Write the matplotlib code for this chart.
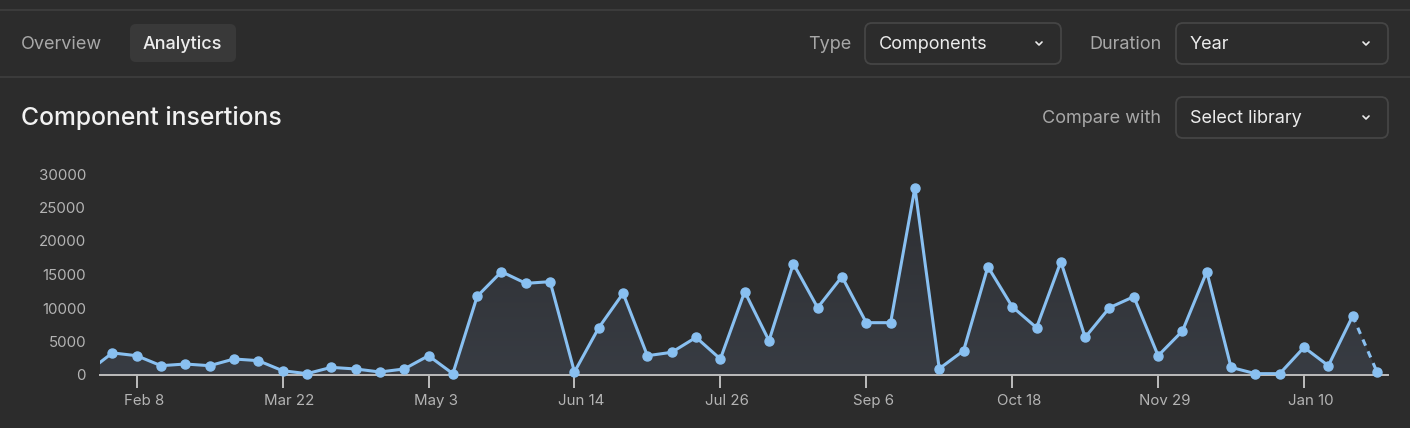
import numpy as np
import matplotlib
matplotlib.use("Agg")
import matplotlib.pyplot as plt
import matplotlib.dates as mdates
import matplotlib.transforms as mtransforms
from matplotlib.patches import FancyBboxPatch, Rectangle
from matplotlib.colors import LinearSegmentedColormap

plt.rcParams['font.family'] = ['Inter', 'DejaVu Sans']

# ---------------- data ----------------
start_date = '2021-01-25'
insertions = [500, 3300, 2880, 1390, 1640, 1390, 2390, 2140, 640, 200, 1140, 900, 450, 900,
              2880, 200, 11740, 15420, 13680, 13930, 450, 7060, 12190, 2880, 3390, 5620,
              2390, 12440, 5120, 16620, 10050, 14680, 7810, 7810, 27960, 940, 3630, 16170,
              10200, 7060, 16920, 5620, 10050, 11690, 2880, 6570, 15420, 1140, 200, 200,
              4130, 1390, 8810, 450]
tick_dates = ['2021-02-08', '2021-03-22', '2021-05-03', '2021-06-14', '2021-07-26',
              '2021-09-06', '2021-10-18', '2021-11-29', '2022-01-10']
tick_labels = ['Feb 8', 'Mar 22', 'May 3', 'Jun 14', 'Jul 26', 'Sep 6', 'Oct 18', 'Nov 29', 'Jan 10']
y_ticks = [0, 5000, 10000, 15000, 20000, 25000, 30000]
title = 'Component insertions'
tabs = ['Overview', 'Analytics']
type_label, type_value = 'Type', 'Components'
duration_label, duration_value = 'Duration', 'Year'
compare_label, compare_value = 'Compare with', 'Select library'

dates = np.arange(np.datetime64(start_date), np.datetime64(start_date) + 7 * len(insertions), 7)
x = mdates.date2num(dates.astype('datetime64[D]').astype(object))
y = np.array(insertions, dtype=float)

# ---------------- style ----------------
BG = '#2c2c2c'
LINE = '#89c0f1'
TXT_DIM = '#a8a8a8'
TXT = '#ececec'
SEP = '#3b3b3b'
BORDER = '#454545'
UI_FS = 13

W, H = 1410, 428
fig = plt.figure(figsize=(W / 100, H / 100), dpi=100, facecolor=BG)

# overlay axes in pixel coordinates for UI elements
ui = fig.add_axes([0, 0, 1, 1], zorder=0)
ui.set_xlim(0, W)
ui.set_ylim(H, 0)
ui.axis('off')
ui.patch.set_alpha(0)

# separators
ui.add_patch(Rectangle((0, 9), W, 2, color=SEP, lw=0))
ui.add_patch(Rectangle((0, 76), W, 2, color=SEP, lw=0))

# tabs
ui.text(21, 44.5, tabs[0], color=TXT_DIM, fontsize=UI_FS, va='center', ha='left')
ui.add_patch(FancyBboxPatch((130 + 6, 24 + 6), 106 - 12, 38 - 12,
                            boxstyle='round,pad=6', fc='#393939', ec='none'))
ui.text(143, 44.5, tabs[1], color=TXT, fontsize=UI_FS, va='center', ha='left', fontweight='medium')


def dropdown(x0, x1, y0, y1, text):
    ui.add_patch(FancyBboxPatch((x0 + 7, y0 + 7), x1 - x0 - 14, y1 - y0 - 14,
                                boxstyle='round,pad=7', fc='none', ec=BORDER, lw=1.3))
    ui.text(x0 + 14, (y0 + y1) / 2 + 0.5, text, color=TXT, fontsize=UI_FS, va='center', ha='left')
    cx, cy = x1 - 22, (y0 + y1) / 2
    ui.plot([cx - 3, cx, cx + 3], [cy - 1.5, cy + 1.5, cy - 1.5], color=TXT, lw=1.2,
            solid_capstyle='round', solid_joinstyle='round')


ui.text(851, 44.5, type_label, color=TXT_DIM, fontsize=UI_FS, va='center', ha='right')
dropdown(865, 1061, 23, 64, type_value)
ui.text(1162, 44.5, duration_label, color=TXT_DIM, fontsize=UI_FS, va='center', ha='right')
dropdown(1176, 1388, 23, 64, duration_value)

ui.text(21, 118, title, color='#f2f2f2', fontsize=17.8, va='center', ha='left', fontweight='medium')
ui.text(1161, 118, compare_label, color=TXT_DIM, fontsize=UI_FS, va='center', ha='right')
dropdown(1176, 1388, 97, 138, compare_value)

# ---------------- chart ----------------
ax_left, ax_right = 100, 1388
ax_top, ax_bottom = 174, 375
ax = fig.add_axes([ax_left / W, (H - ax_bottom) / H, (ax_right - ax_left) / W, (ax_bottom - ax_top) / H],
                  zorder=2)
ax.patch.set_alpha(0)

xl = mdates.date2num(np.datetime64('2021-01-28T10:30').astype(object))
xr = mdates.date2num(np.datetime64('2022-02-03T04:00').astype(object))
ax.set_xlim(xl, xr)
ax.set_ylim(0, 30000)

# gradient fill under curve
poly = ax.fill_between(x, 0, y, color='none', lw=0)
grad = np.linspace(0, 1, 256).reshape(-1, 1)
cmap = LinearSegmentedColormap.from_list('g', ['#383c43', '#2d2e31'])
img = ax.imshow(grad, cmap=cmap, aspect='auto', origin='lower',
                extent=[xl, xr, 0, 30000], zorder=1)
img.set_clip_path(poly.get_paths()[0], transform=ax.transData)

ax.plot(x[:-1], y[:-1], color=LINE, lw=2.2, zorder=3, solid_joinstyle='round')
ax.plot(x[-2:], y[-2:], color=LINE, lw=2.2, ls=(0, (2.2, 2.0)), zorder=3)
ax.plot(x[1:], y[1:], 'o', color=LINE, ms=6.5, zorder=4, clip_on=False)

for s in ['top', 'right', 'left']:
    ax.spines[s].set_visible(False)
ax.spines['bottom'].set_color('#bdbdbd')
ax.spines['bottom'].set_linewidth(1.4)
ax.spines['bottom'].set_zorder(2)

tick_x = [mdates.date2num(np.datetime64(d).astype(object)) for d in tick_dates]
ax.set_xticks(tick_x)
ax.set_xticklabels(tick_labels)
ax.set_yticks(y_ticks)
ax.set_yticklabels([str(v) for v in y_ticks])
ax.tick_params(axis='x', colors='#bdbdbd', length=9, width=1.4, pad=5, labelsize=10.8,
               labelcolor='#b4b4b4')
ax.tick_params(axis='y', length=0, pad=10, labelsize=10.8, labelcolor='#b4b4b4')

# labels sit slightly right of their tick marks in the reference
shift = mtransforms.ScaledTranslation(7 / 100, 0, fig.dpi_scale_trans)
for lbl in ax.get_xticklabels():
    lbl.set_transform(lbl.get_transform() + shift)

fig.savefig('out.png', dpi=100, facecolor=BG)
